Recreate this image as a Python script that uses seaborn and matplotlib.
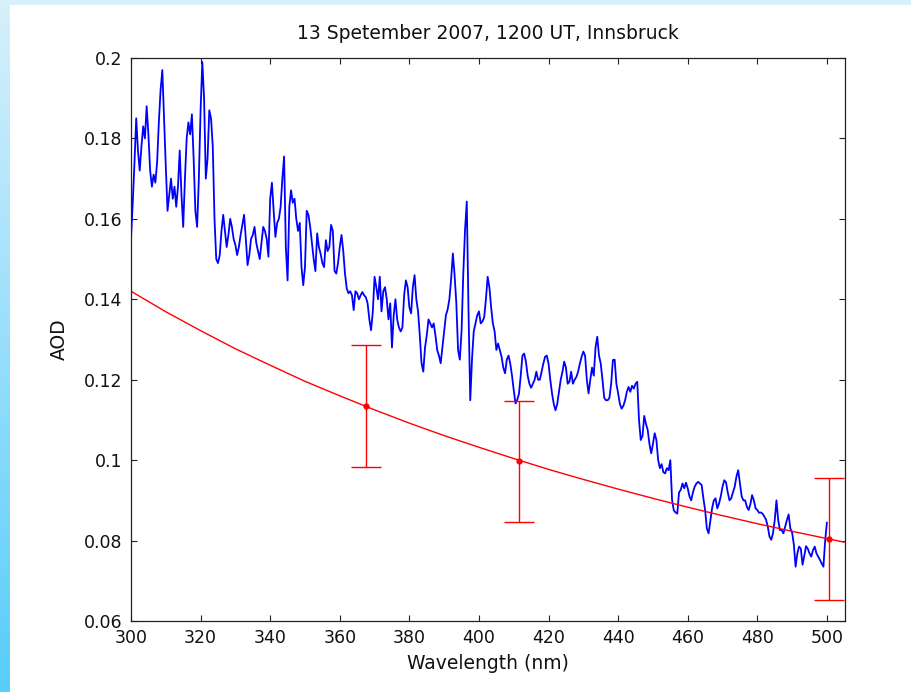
import numpy as np
import pandas as pd
import matplotlib
matplotlib.use("Agg")
import matplotlib.pyplot as plt
from matplotlib.patches import Rectangle
import seaborn as sns

# ---------------- data ----------------
title_text = "13 Spetember 2007, 1200 UT, Innsbruck"
x_label = "Wavelength (nm)"
y_label = "AOD"

# measured spectral AOD, 300 .. 500 nm every 0.5 nm (blue curve)
measured_wl = np.arange(300.0, 500.25, 0.5)
measured_aod = [
    0.155, 0.164, 0.174, 0.185, 0.177, 0.172, 0.178, 0.183, 0.180, 0.188,
    0.181, 0.172, 0.168, 0.171, 0.169, 0.174, 0.184, 0.192, 0.197, 0.185,
    0.173, 0.162, 0.166, 0.170, 0.165, 0.168, 0.163, 0.168, 0.177, 0.166,
    0.158, 0.170, 0.180, 0.184, 0.181, 0.186, 0.175, 0.162, 0.158, 0.170,
    0.187, 0.199, 0.190, 0.170, 0.175, 0.187, 0.185, 0.178, 0.160, 0.150,
    0.149, 0.151, 0.157, 0.161, 0.157, 0.153, 0.156, 0.160, 0.158, 0.155,
    0.1535, 0.151, 0.153, 0.156, 0.1585, 0.161, 0.155, 0.1485, 0.151, 0.155,
    0.156, 0.158, 0.154, 0.152, 0.150, 0.154, 0.158, 0.157, 0.155, 0.1506,
    0.165, 0.169, 0.162, 0.1555, 0.159, 0.160, 0.163, 0.170, 0.1755, 0.153,
    0.1447, 0.163, 0.1671, 0.164, 0.165, 0.160, 0.157, 0.159, 0.148, 0.1435,
    0.148, 0.162, 0.161, 0.158, 0.154, 0.150, 0.147, 0.1564, 0.153, 0.1513,
    0.149, 0.148, 0.1547, 0.152, 0.153, 0.1585, 0.157, 0.147, 0.1464, 0.149,
    0.153, 0.156, 0.152, 0.1464, 0.1427, 0.1415, 0.142, 0.141, 0.1373, 0.142,
    0.1415, 0.140, 0.141, 0.1418, 0.141, 0.1405, 0.139, 0.135, 0.1323, 0.137,
    0.1456, 0.143, 0.140, 0.1456, 0.137, 0.142, 0.143, 0.140, 0.135, 0.139,
    0.128, 0.136, 0.140, 0.135, 0.133, 0.132, 0.133, 0.141, 0.1447, 0.143,
    0.138, 0.1365, 0.143, 0.146, 0.140, 0.137, 0.131, 0.1241, 0.122, 0.128,
    0.131, 0.135, 0.134, 0.133, 0.134, 0.131, 0.1274, 0.126, 0.1241, 0.128,
    0.132, 0.136, 0.1375, 0.140, 0.145, 0.1514, 0.146, 0.139, 0.1274, 0.125,
    0.132, 0.1465, 0.1572, 0.1643, 0.137, 0.1149, 0.125, 0.132, 0.134, 0.136,
    0.137, 0.134, 0.1345, 0.1355, 0.140, 0.1456, 0.143, 0.138, 0.134, 0.132,
    0.1274, 0.129, 0.1274, 0.1257, 0.123, 0.1216, 0.125, 0.126, 0.124, 0.121,
    0.1174, 0.1141, 0.115, 0.1165, 0.121, 0.126, 0.1265, 0.1245, 0.121, 0.119,
    0.118, 0.119, 0.120, 0.122, 0.120, 0.120, 0.122, 0.124, 0.1257, 0.126,
    0.124, 0.120, 0.1166, 0.114, 0.1124, 0.114, 0.117, 0.120, 0.122, 0.1245,
    0.123, 0.119, 0.1195, 0.122, 0.119, 0.120, 0.1207, 0.122, 0.124, 0.1257,
    0.127, 0.126, 0.120, 0.1166, 0.120, 0.123, 0.121, 0.128, 0.1307, 0.126,
    0.124, 0.120, 0.1155, 0.1149, 0.1149, 0.1155, 0.119, 0.1249, 0.125, 0.119,
    0.1166, 0.114, 0.1128, 0.1135, 0.1149, 0.117, 0.1182, 0.117, 0.1185, 0.1178,
    0.119, 0.1195, 0.110, 0.105, 0.106, 0.111, 0.109, 0.1075, 0.104, 0.1017,
    0.104, 0.1067, 0.105, 0.100, 0.098, 0.099, 0.097, 0.0967, 0.098, 0.0975,
    0.100, 0.0901, 0.0875, 0.087, 0.0867, 0.092, 0.0926, 0.0942, 0.093, 0.0944,
    0.093, 0.091, 0.090, 0.092, 0.0934, 0.0942, 0.0946, 0.0942, 0.0938, 0.0905,
    0.0876, 0.083, 0.0818, 0.085, 0.088, 0.090, 0.0905, 0.088, 0.0892, 0.091,
    0.0934, 0.095, 0.0945, 0.092, 0.090, 0.0905, 0.092, 0.0934, 0.0959, 0.0975,
    0.0942, 0.091, 0.090, 0.090, 0.0884, 0.0876, 0.089, 0.0913, 0.090, 0.088,
    0.0876, 0.0869, 0.087, 0.0867, 0.086, 0.0852, 0.0835, 0.081, 0.0802, 0.0818,
    0.085, 0.090, 0.0851, 0.0826, 0.0826, 0.0818, 0.0835, 0.0851, 0.0865, 0.083,
    0.082, 0.079, 0.0735, 0.0768, 0.0785, 0.078, 0.074, 0.0762, 0.0786, 0.078,
    0.0768, 0.076, 0.0776, 0.0785, 0.0768, 0.0760, 0.0752, 0.0743, 0.0735, 0.080,
    0.0845,
]

# fitted (red) curve
model_wl = [300, 310, 320, 330, 340, 350, 360, 370, 380, 390, 400,
            410, 420, 430, 440, 450, 460, 470, 480, 490, 500, 505]
model_aod = [0.1420, 0.1369, 0.1322, 0.1277, 0.1236, 0.1196, 0.1160, 0.1125,
             0.1092, 0.1061, 0.1032, 0.1004, 0.0977, 0.0952, 0.0928, 0.0905,
             0.0883, 0.0862, 0.0842, 0.0823, 0.0805, 0.0796]

# sun photometer points with error bars
sun_wl = [367.6, 411.4, 500.5]
sun_aod = [0.1134, 0.0997, 0.0803]
sun_err = [0.0152, 0.0150, 0.0152]

x_ticks = [300, 320, 340, 360, 380, 400, 420, 440, 460, 480, 500]
y_ticks = [0.06, 0.08, 0.10, 0.12, 0.14, 0.16, 0.18, 0.20]
y_tick_labels = ["0.06", "0.08", "0.1", "0.12", "0.14", "0.16", "0.18", "0.2"]

# ---------------- styling ----------------
sns.set_theme(style="white")
plt.rcParams["font.family"] = ["DejaVu Sans"]

W, H = 911, 692
fig = plt.figure(figsize=(W / 100, H / 100), dpi=100, facecolor="white")

# background decoration: left gradient strip + top strip
bg = fig.add_axes([0, 0, 1, 1], zorder=-10)
bg.axis("off")
top_c = np.array([215, 240, 252]) / 255.0
bot_c = np.array([88, 205, 250]) / 255.0
t = np.linspace(0, 1, 256)[:, None]
grad = (top_c[None, :] * (1 - t) + bot_c[None, :] * t)[:, None, :]
bg.imshow(grad, extent=(0, 10 / W, 0, 1), aspect="auto", origin="upper")
bg.add_patch(Rectangle((0, 1 - 5 / H), 1, 5 / H, color=top_c, lw=0))
bg.set_xlim(0, 1)
bg.set_ylim(0, 1)

ax = fig.add_axes([131 / W, 1 - 621 / H, (845 - 131) / W, (621 - 58) / H])
ax.set_facecolor("white")

blue_df = pd.DataFrame({"wl": measured_wl, "aod": measured_aod})
model_df = pd.DataFrame({"wl": model_wl, "aod": model_aod})

sns.lineplot(data=blue_df, x="wl", y="aod", ax=ax, color="#0000ff",
             linewidth=1.3, estimator=None, sort=True)
sns.lineplot(data=model_df, x="wl", y="aod", ax=ax, color="#ff0000",
             linewidth=1.0, estimator=None, sort=True)
ax.errorbar(sun_wl, sun_aod, yerr=sun_err, fmt="o", color="#ff0000",
            markersize=3.5, capsize=11, elinewidth=1.0, capthick=1.0,
            clip_on=False, zorder=5)

ax.set_xlim(300, 505.2)
ax.set_ylim(0.06, 0.2)
ax.set_xticks(x_ticks)
ax.set_xticklabels([str(v) for v in x_ticks])
ax.set_yticks(y_ticks)
ax.set_yticklabels(y_tick_labels)

for s in ax.spines.values():
    s.set_visible(True)
    s.set_color("#222222")
    s.set_linewidth(0.9)

ax.tick_params(axis="both", which="both", direction="in", length=4.5,
               width=0.8, color="#222222", labelsize=12.5, labelcolor="#111111",
               top=True, right=True, bottom=True, left=True, pad=6)
ax.grid(False)

ax.set_title(title_text, fontsize=13.5, color="#111111", pad=14)
ax.set_xlabel(x_label, fontsize=13.5, color="#111111", labelpad=5)
ax.set_ylabel(y_label, fontsize=13.5, color="#111111", labelpad=11)

fig.savefig("out.png", dpi=100, facecolor="white")
